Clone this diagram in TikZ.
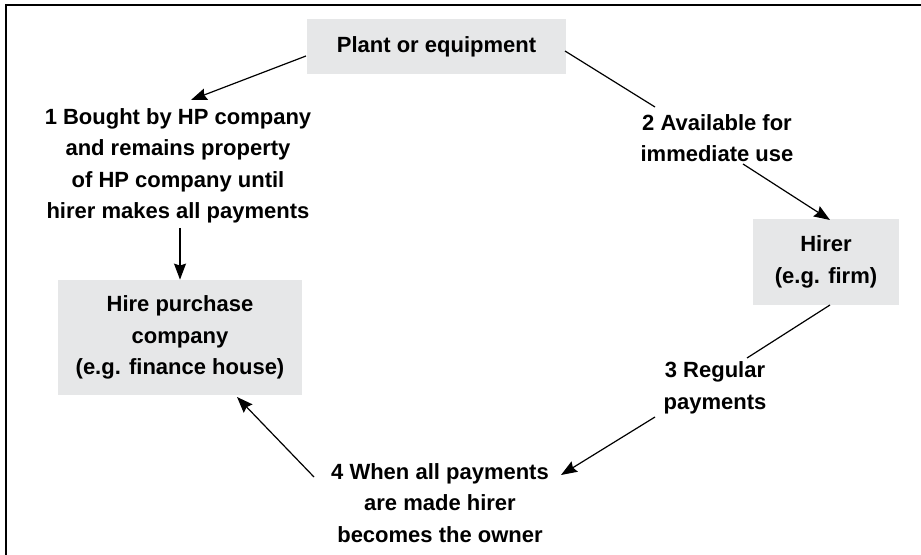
\documentclass[tikz,border=0pt]{standalone}
\usepackage{fontspec}
\setmainfont{Liberation Sans}
\usetikzlibrary{arrows.meta, calc, positioning}
\definecolor{boxgray}{RGB}{230,231,232}

\begin{document}
\begin{tikzpicture}[
      x=0.5pt, y=-0.5pt,
      box/.style={fill=boxgray, align=center, inner sep=0pt, font=\bfseries\fontsize{11}{15.75}\selectfont},
      lab/.style={align=center, inner sep=2pt, font=\bfseries\fontsize{11}{15.75}\selectfont},
      arr/.style={-{Stealth[length=8pt, width=6pt, inset=1pt]}, line width=0.6pt},
      plain/.style={line width=0.6pt}
    ]
      \useasboundingbox (0,0) rectangle (921,555);

% Frame
      \draw[line width=1.1pt] (6,560) -- (6,5) -- (926,5);

% Boxes
      \node[box, minimum width=129.5pt, minimum height=27.5pt] (plant) at (436.5,46.5) {Plant or equipment};
      \node[box, minimum width=73pt, minimum height=43pt] (hirer) at (826,262) {Hirer\\(e.g. firm)};
      \node[box, minimum width=122pt, minimum height=57.5pt] (hp) at (180,337.5) {Hire purchase\\company\\(e.g. finance house)};

% Steps
      \node[lab] (bought) at (178,166) {1 Bought by HP company\\and remains property\\of HP company until\\hirer makes all payments};
      \node[lab] (avail) at (717,138) {2 Available for\\immediate use};
      \node[lab] (regular) at (715,388) {3 Regular\\payments};
      \node[lab] (owner) at (440,503) {4 When all payments\\are made hirer\\becomes the owner};

% Arrows
      \draw[arr] ($(plant)+(-130.5,9.5)$) -- ($(bought)+(13,-66)$);
      \draw[arr] ($(bought)+(2,62)$) -- (hp.north);

      \draw[plain] ($(plant)+(128.5,4.5)$) -- ($(avail)+(-62,-31)$);
      \draw[arr] ($(avail)+(26,26)$) -- ($(hirer)+(4,-42)$);

      \draw[plain] ($(hirer)+(4,43)$) -- ($(regular)+(32,-30)$);
      \draw[arr] ($(regular)+(-60,29)$) -- ($(owner)+(121,-28)$);

      \draw[arr] ($(owner)+(-126,-26)$) -- ($(hp)+(57,59.5)$);
    \end{tikzpicture}
\end{document}
